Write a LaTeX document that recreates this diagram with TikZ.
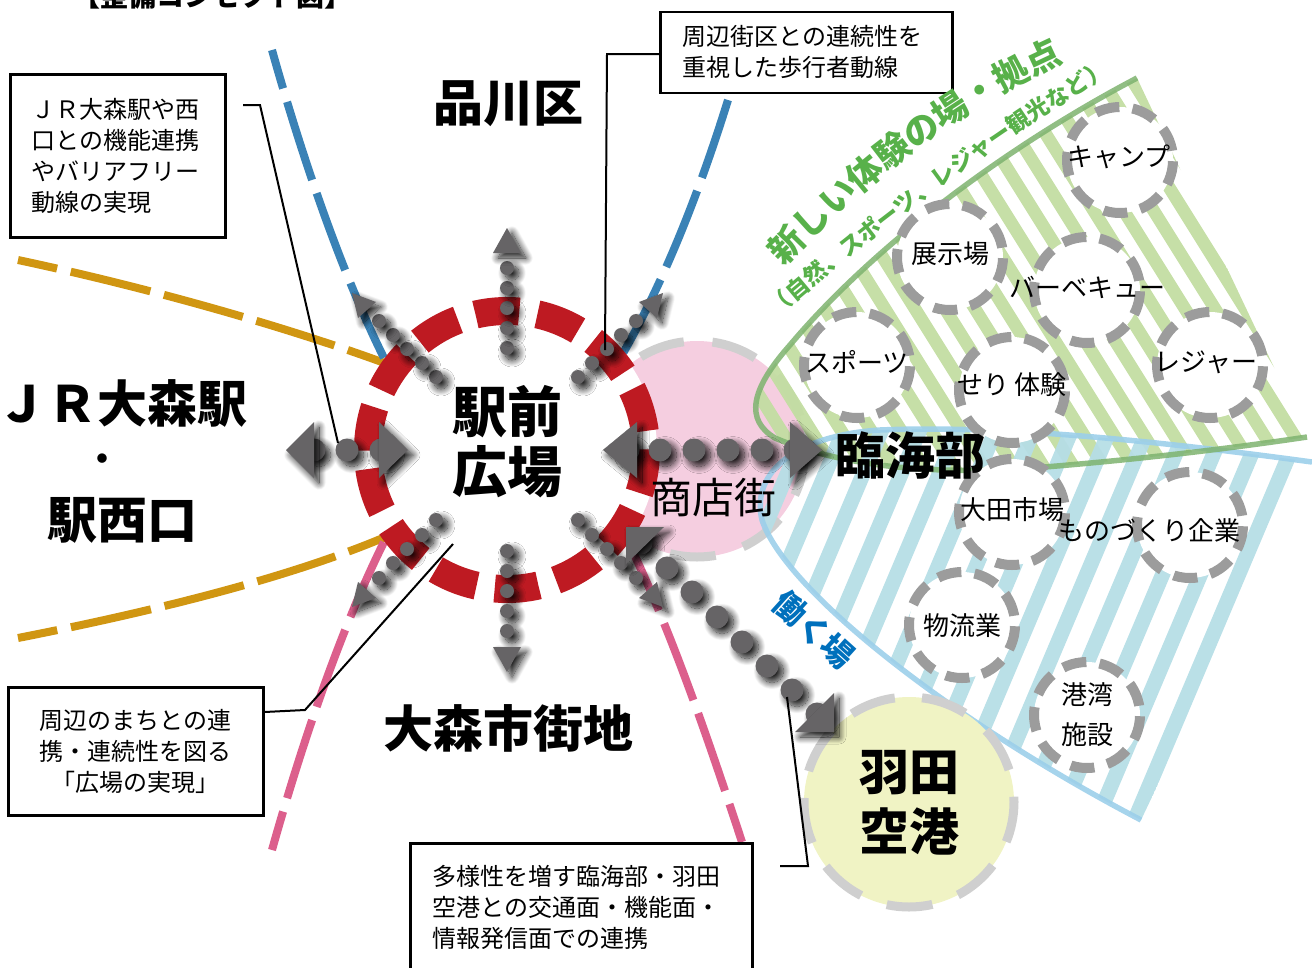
\documentclass[tikz,border=0pt]{standalone}
\usepackage{fontspec}
\setmainfont{Noto Sans CJK JP}
\newfontfamily\heavyfont{Noto Sans CJK JP Black}
\usetikzlibrary{shadows.blur,decorations.text}
\definecolor{ringgray}{HTML}{9C9C9C}
\definecolor{palegray}{HTML}{CFCFCF}
\definecolor{arrowgray}{HTML}{666466}
\definecolor{plazared}{HTML}{BE1A22}
\definecolor{shoppink}{HTML}{F5CEE0}
\definecolor{airportyellow}{HTML}{F0F3C4}
\definecolor{fangreen}{HTML}{C3DDA2}
\definecolor{edgegreen}{HTML}{7EB36F}
\definecolor{textgreen}{HTML}{58B14A}
\definecolor{fanblue}{HTML}{B6DEE6}
\definecolor{edgeblue}{HTML}{9CCFEA}
\definecolor{textblue}{HTML}{0070BC}
\definecolor{roadorange}{HTML}{D09612}
\definecolor{roadblue}{HTML}{3A82B6}
\definecolor{roadpink}{HTML}{DC5F8C}
\tikzset{
  road/.style={line width=8pt,dash pattern=on 82pt off 14pt},
  spotring/.style={draw=ringgray,line width=10pt,fill=white,dash pattern=on 24pt off 13.3pt,dash phase=28pt},
  bigring/.style={draw=palegray,line width=9pt,dash pattern=on 46pt off 28.7pt,dash phase=41.2pt},
  spottext/.style={inner sep=0pt,font=\fontsize{26}{40}\selectfont},
  bigtext/.style={inner sep=0pt,font=\heavyfont\fontsize{50}{60}\selectfont},
  notebox/.style={draw=black,line width=2.5pt,anchor=north west,inner sep=0pt,font=\fontsize{24}{31}\selectfont},
  leader/.style={draw=black,line width=2pt},
  arrowfill/.style={fill=arrowgray,blur shadow={shadow xshift=5pt,shadow yshift=-5pt,shadow blur steps=16,shadow blur radius=7pt,shadow opacity=90}}
}
\begin{document}
\begin{tikzpicture}[x=1pt,y=-1pt]
\useasboundingbox (0,0) rectangle (1312,967);
% Roads
\draw[road,roadorange,dash phase=42pt] (18,260) .. controls (150,288) and (290,328) .. (390,365);
\draw[road,roadorange,dash phase=42pt] (18,638) .. controls (150,612) and (290,578) .. (390,535);
\draw[road,roadblue,dash phase=42pt] (272,50) .. controls (300,150) and (340,270) .. (385,360);
\draw[road,roadblue] (728,100) .. controls (700,190) and (665,280) .. (622,355);
\draw[road,roadpink,dash phase=42pt] (272,850) .. controls (300,750) and (340,630) .. (385,540);
\draw[road,roadpink,dash phase=42pt] (742,842) .. controls (715,760) and (675,640) .. (632,550);
% Shopping street
\fill[shoppink] (697,449) circle (108pt);
\draw[bigring] (697,449) circle (108pt);
% Green fan
\begin{scope}
\clip (1137,78) .. controls (1000,150) and (870,250) .. (790,345) .. controls (750,390) and (745,420) .. (775,438) .. controls (850,470) and (950,475) .. (1045,467) .. controls (1130,460) and (1220,450) .. (1307,437) -- cycle;
\foreach \s in {482,512,...,1112} \draw[fangreen,line width=12.7pt,opacity=.95] (\s,0) -- ++(500,800);
\end{scope}
% Blue fan
\begin{scope}
\clip (1312,462) .. controls (1150,440) and (1000,425) .. (880,430) .. controls (800,435) and (750,470) .. (762,520) .. controls (785,590) and (950,720) .. (1141,820) -- cycle;
\foreach \s in {950,988,...,1490} \draw[fanblue,line width=15pt,opacity=.95] (\s,0) -- ++(-500,1180);
\end{scope}
% Fan edges
\draw[edgeblue,line width=5.5pt,opacity=.9] (1312,462) .. controls (1150,440) and (1000,425) .. (880,430) .. controls (800,435) and (750,470) .. (762,520) .. controls (785,590) and (950,720) .. (1141,820);
\draw[edgegreen,line width=5.5pt,opacity=.85] (1137,78) .. controls (1000,150) and (870,250) .. (790,345) .. controls (750,390) and (745,420) .. (775,438) .. controls (850,470) and (950,475) .. (1045,467) .. controls (1130,460) and (1220,450) .. (1307,437);
% Spots
\foreach \x/\y in {1120/160,950/257,1087/290,857/365,1012/390,1210/365,1012/512,1190/525,962/625,1087/715} \draw[spotring] (\x,\y) circle (53pt);
\foreach \x/\y/\t/\n in {1119/157/キャンプ/camp,950/254/展示場/expo,1087/287/バーベキュー/bbq,857/362/スポーツ/sports,1012/385/せり 体験/auction,1206/362/レジャー/leisure,1012/510/大田市場/market,1149/531/ものづくり企業/maker,962/626/物流業/logi} \node[spottext] (s\n) at (\x,\y) {\t};
\node[spottext,align=center] (sport) at (1087,715) {港湾\\施設};
% Airport
\fill[airportyellow] (909,802) circle (105pt);
\draw[bigring,dash pattern=on 46pt off 27.3pt,dash phase=40.7pt] (909,802) circle (105pt);
% Plaza ring
\fill[white] (507,450) circle (150pt);
\draw[plazared,line width=28pt,dash pattern=on 44pt off 18.38pt,dash phase=43.4pt] (507,450) circle (139pt);
% Arrows north and south
\foreach \x/\y in {507/348,507/328,507/308,507/288,507/268,507/551,507/571,507/591,507/611,507/631} \fill[arrowfill] (\x,\y) circle (7pt);
\fill[arrowfill] (507,228) -- (521,253) -- (493,253) -- cycle;
\fill[arrowfill] (507,672) -- (521,647) -- (493,647) -- cycle;
% Arrows diagonal
\foreach \x/\y in {436/377,422/363,407/349,393/335,379/321,578/377,592/363,607/349,621/335,636/321,436/520,422/535,407/549,393/563,379/578,578/520,592/535,607/549,621/563,636/578} \fill[arrowfill] (\x,\y) circle (7pt);
\fill[arrowfill] (352,293) -- (376,302) -- (358,318) -- cycle;
\fill[arrowfill] (663,293) -- (639,302) -- (657,318) -- cycle;
\fill[arrowfill] (352,607) -- (376,598) -- (358,582) -- cycle;
\fill[arrowfill] (663,607) -- (639,598) -- (657,582) -- cycle;
% Arrow west
\foreach \x in {314,347,381} \fill[arrowfill] (\x,450) circle (11.5pt);
\fill[arrowfill] (286,450) -- (314,422) -- (314,478) -- cycle;
\fill[arrowfill] (408,450) -- (379,422) -- (379,478) -- cycle;
% Arrow east
\foreach \x in {628,660,694,728,762,795} \fill[arrowfill] (\x,450) circle (11.5pt);
\fill[arrowfill] (603,450) -- (637,422) -- (637,478) -- cycle;
\fill[arrowfill] (822,450) -- (790,422) -- (790,478) -- cycle;
% Arrow to airport
\foreach \x/\y in {641/543,667/568,692/592,717/617,742/642,767/666,792/690,817/714} \fill[arrowfill] (\x,\y) circle (11.5pt);
\fill[arrowfill] (626,527) -- (664,527) -- (626,564) -- cycle;
\fill[arrowfill] (834,693) -- (834,732) -- (795,732) -- cycle;
% Notes
\node[notebox,minimum width=215pt,minimum height=163pt,text width=173pt,align=left] (jrnote) at (9,73) {ＪＲ大森駅や西\\口との機能連携\\やバリアフリー\\動線の実現};
\node[notebox,minimum width=292pt,minimum height=81pt,text width=248pt,align=left] (walknote) at (659,10.5) {周辺街区との連続性を\\重視した歩行者動線};
\node[notebox,minimum width=255pt,minimum height=128pt,align=center] (townnote) at (7,686) {周辺のまちとの連\\携・連続性を図る\\「広場の実現」};
\node[notebox,minimum width=342pt,minimum height=128pt,text width=298pt,align=left] (airnote) at (409,842) {多様性を増す臨海部・羽田\\空港との交通面・機能面・\\情報発信面での連携};
\draw[black,line width=2.5pt] (airnote.south west) -- ++(0,12) (airnote.south east) -- ++(0,12);
% Leaders
\coordinate (jrfree) at (243,105);
\coordinate (jrend) at (338,443);
\coordinate (walkend) at (605,350);
\coordinate (townend) at (453,544);
\coordinate (airfree) at (780,866);
\coordinate (airend) at (787,697);
\draw[leader] (jrfree) -- (260,105) -- (jrend);
\draw[leader] (walknote.west |- 0,54) -- (607,54) -- (walkend);
\draw[leader] (townnote.east |- 0,712) -- (305,710) -- (townend);
\draw[leader] (airfree) -- (808,866) -- (airend);
% Big labels
\node[inner sep=0pt,font=\bfseries\fontsize{28}{30}\selectfont] (title) at (212,-4) {【整備コンセプト図】};
\node[bigtext] (shinagawa) at (508,104) {品川区};
\node[bigtext] (jr) at (123,403) {ＪＲ大森駅};
\node[bigtext,font=\heavyfont\fontsize{34}{40}\selectfont] (dot) at (102,463) {・};
\node[bigtext] (west) at (122,520) {駅西口};
\node[bigtext,align=center,font=\heavyfont\fontsize{55}{60}\selectfont] (plaza) at (507,442) {駅前\\広場};
\node[bigtext] (omori) at (508,728) {大森市街地};
\node[bigtext] (rinkai) at (910,455) {臨海部};
\node[bigtext,align=center] (haneda) at (909,803) {羽田\\空港};
\node[inner sep=0pt,font=\fontsize{42}{50}\selectfont] (shops) at (713,498) {商店街};
\node[inner sep=0pt,rotate=-42,text=textblue,font=\heavyfont\fontsize{32}{34}\selectfont] (work) at (814,630) {働く場};
% Curved labels
\path[decorate,decoration={text along path,text align=center,text={|\bfseries\fontsize{35}{35}\selectfont\color{textgreen}|新しい体験の場・拠点}}] (780,270) .. controls (845,200) and (955,108) .. (1069,60);
\path[decorate,decoration={text along path,text align=center,text={|\bfseries\fontsize{23}{23}\selectfont\color{textgreen}|（自然、スポーツ、レジャー観光など）}}] (776,318) .. controls (860,245) and (1000,137) .. (1112,74);
\end{tikzpicture}
\end{document}
